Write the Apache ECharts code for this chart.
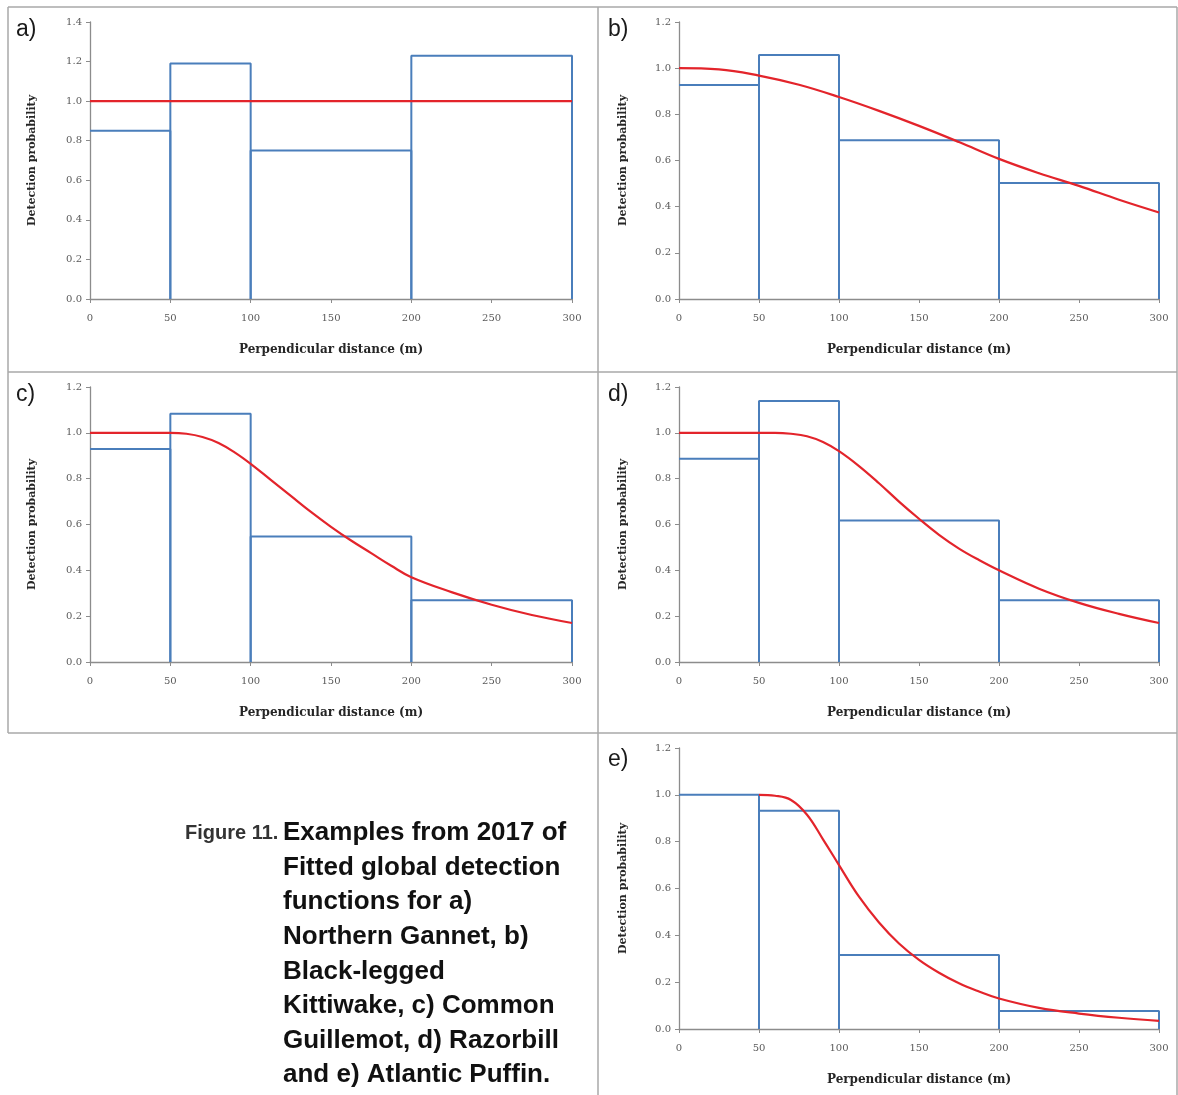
<!DOCTYPE html>
<html>
<head>
<meta charset="utf-8">
<script src="https://cdn.jsdelivr.net/npm/echarts@6/dist/echarts.min.js"></script>
<style>html,body{margin:0;padding:0;background:#fff}#c{width:1178px;height:1095px}</style>
</head>
<body>
<div id="c"></div>
<script>
// ---- data ----
const binEdges = [0, 50, 100, 200, 300];
const xTicks = [0, 50, 100, 150, 200, 250, 300];
const panelLabels = ['a)', 'b)', 'c)', 'd)', 'e)'];
const yMax = [1.4, 1.2, 1.2, 1.2, 1.2];

const histA = [0.85, 1.19, 0.75, 1.23];
const histB = [0.927, 1.057, 0.688, 0.503];
const histC = [0.93, 1.083, 0.548, 0.27];
const histD = [0.887, 1.139, 0.617, 0.27];
const histE = [1.0, 0.932, 0.316, 0.077];

const curveA = [[0, 1.0], [300, 1.0]];
const curveB = [[0,1.0],[25,0.995],[50,0.968],[75,0.928],[100,0.875],[125,0.815],[150,0.75],[175,0.68],[200,0.607],[225,0.545],[250,0.49],[275,0.43],[300,0.375]];
const curveC = [[0,1.0],[50,1.0],[60,0.996],[70,0.982],[80,0.956],[90,0.915],[100,0.865],[112.5,0.795],[125,0.725],[137.5,0.655],[150,0.59],[162.5,0.53],[175,0.475],[187.5,0.42],[200,0.37],[225,0.305],[250,0.25],[275,0.205],[300,0.17]];
const curveD = [[0,1.0],[60,1.0],[70,0.996],[80,0.985],[90,0.96],[100,0.92],[112.5,0.855],[125,0.78],[137.5,0.70],[150,0.625],[162.5,0.555],[175,0.495],[187.5,0.445],[200,0.40],[225,0.32],[250,0.258],[275,0.21],[300,0.17]];
const curveE = [[50,1.0],[60,0.996],[70,0.978],[80,0.915],[90,0.81],[100,0.70],[112.5,0.565],[125,0.455],[137.5,0.365],[150,0.295],[162.5,0.24],[175,0.195],[187.5,0.16],[200,0.13],[225,0.09],[250,0.066],[275,0.048],[300,0.035]];

const hists = [histA, histB, histC, histD, histE];
const curves = [curveA, curveB, curveC, curveD, curveE];

const xName = 'Perpendicular distance (m)';
const yName = 'Detection probability';
const captionHead = 'Figure 11.';
const captionLines = ['Examples from 2017 of', 'Fitted global detection', 'functions for a)', 'Northern Gannet, b)', 'Black-legged', 'Kittiwake, c) Common', 'Guillemot, d) Razorbill', 'and e) Atlantic Puffin.'];

// ---- layout ----
const grids = [
  {left: 90, top: 22, width: 482, height: 277},
  {left: 679, top: 22, width: 480, height: 277},
  {left: 90, top: 387, width: 482, height: 275},
  {left: 679, top: 387, width: 480, height: 275},
  {left: 679, top: 748, width: 480, height: 281}
];
const labelPos = [[16, 30], [608, 30], [16, 395], [608, 395], [608, 760]];

const BLUE = '#4a7ebb', RED = '#e3242b', AXIS = '#8c8c8c', TICKTXT = '#5a5a5a';
const serif = '"DejaVu Serif", "Liberation Serif", serif';

const xAxis = [], yAxis = [], series = [];
grids.forEach((g, i) => {
  xAxis.push({
    gridIndex: i, type: 'value', min: 0, max: 300, interval: 50,
    name: xName, nameLocation: 'middle', nameGap: 45,
    nameTextStyle: {fontFamily: serif, fontWeight: 'bold', fontSize: 12, color: '#262626'},
    axisLine: {lineStyle: {color: AXIS, width: 1.3}},
    axisTick: {show: true, length: 4, lineStyle: {color: AXIS}},
    axisLabel: {fontFamily: serif, fontSize: 10, color: TICKTXT, margin: 14},
    splitLine: {show: false}
  });
  yAxis.push({
    gridIndex: i, type: 'value', min: 0, max: yMax[i], interval: 0.2,
    name: yName, nameLocation: 'middle', nameGap: (i === 0 || i === 2) ? 52 : 50,
    nameTextStyle: {fontFamily: serif, fontWeight: 'bold', fontSize: 11, color: '#262626'},
    axisLine: {show: true, lineStyle: {color: AXIS, width: 1.3}},
    axisTick: {show: true, length: 4, lineStyle: {color: AXIS}},
    axisLabel: {fontFamily: serif, fontSize: 10, color: TICKTXT, margin: 8, formatter: v => v.toFixed(1)},
    splitLine: {show: false}
  });
  const h = hists[i];
  for (let k = 0; k < h.length; k++) {
    const x0 = binEdges[k], x1 = binEdges[k + 1];
    const pts = [];
    if (x0 !== 0) pts.push([x0, 0]);
    pts.push([x0, h[k]], [x1, h[k]], [x1, 0]);
    series.push({
      type: 'line', xAxisIndex: i, yAxisIndex: i, data: pts, symbol: 'none',
      lineStyle: {color: BLUE, width: 2}, z: 2, silent: true, animation: false
    });
  }
  series.push({
    type: 'line', xAxisIndex: i, yAxisIndex: i, data: curves[i], symbol: 'none',
    smooth: 0.4,
    lineStyle: {color: RED, width: 2.2}, z: 3, silent: true, animation: false
  });
});

const graphic = [];
const border = {stroke: '#a8a8a8', lineWidth: 1.5};
[[8, 7, 1177, 7], [8, 372, 1177, 372], [8, 733, 1177, 733], [8, 7, 8, 733], [598, 7, 598, 1095], [1177, 7, 1177, 1095]].forEach(l => {
  graphic.push({type: 'line', shape: {x1: l[0], y1: l[1], x2: l[2], y2: l[3]}, style: border, silent: true});
});
panelLabels.forEach((t, i) => {
  graphic.push({type: 'text', x: labelPos[i][0], y: labelPos[i][1],
    style: {text: t, fontFamily: '"Liberation Sans", Arial, sans-serif', fontSize: 23, fill: '#1a1a1a', textVerticalAlign: 'middle'}});
});
graphic.push({type: 'text', x: 185, y: 833,
  style: {text: captionHead, fontFamily: '"Liberation Sans", Arial, sans-serif', fontSize: 20, fontWeight: 'bold', fill: '#333', textVerticalAlign: 'middle'}});
captionLines.forEach((t, i) => {
  graphic.push({type: 'text', x: 283, y: 833 + i * 34.6,
    style: {text: t, fontFamily: '"Liberation Sans", Arial, sans-serif', fontSize: 26, fontWeight: 'bold', fill: '#111', textVerticalAlign: 'middle'}});
});

const chart = echarts.init(document.getElementById('c'), null, {renderer: 'canvas'});
chart.setOption({
  backgroundColor: '#fff',
  animation: false,
  grid: grids.map(g => Object.assign({containLabel: false}, g)),
  xAxis, yAxis, series, graphic
});
</script>
</body>
</html>
